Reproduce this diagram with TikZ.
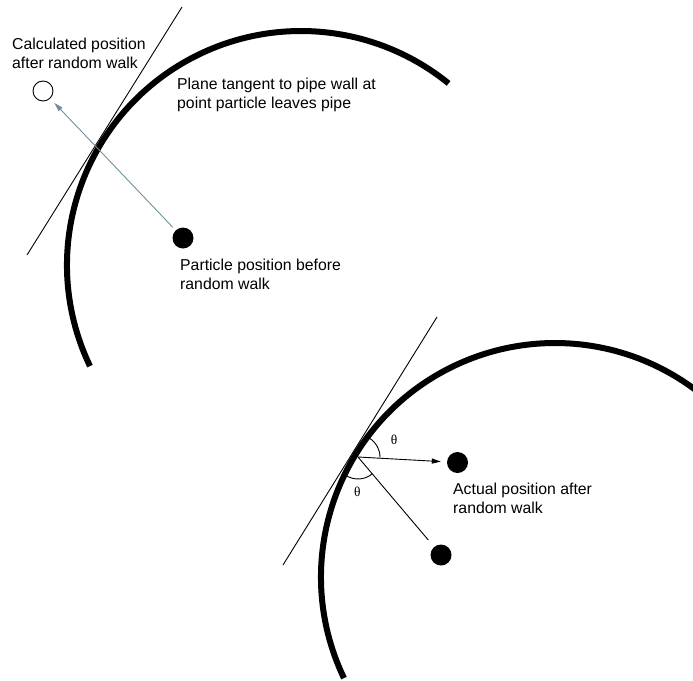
\documentclass[tikz,border=0pt]{standalone}
\usepackage{fontspec}
\setmainfont{Liberation Sans}
\newfontfamily\thetafont{Liberation Serif}
\usetikzlibrary{arrows.meta}
\definecolor{slate}{RGB}{110,145,155}
\begin{document}
\begin{tikzpicture}[x=1pt,y=-1pt,
  wall/.style={line width=6pt,line cap=butt},
  thin/.style={line width=0.9pt},
  dotfill/.style={circle,fill=black,inner sep=0pt,minimum size=21pt},
  dotopen/.style={circle,draw=black,line width=0.9pt,fill=white,inner sep=0pt,minimum size=20pt},
  lbl/.style={anchor=base west,align=left,inner sep=0pt,font=\fontsize{15.8}{18.5}\selectfont},
  thlbl/.style={inner sep=0pt,font=\thetafont\fontsize{13.5}{14}\selectfont},
  tip/.style={-{Triangle[length=9pt,width=5pt]}}
]
\useasboundingbox (0,0) rectangle (693,680);
\clip (0,0) rectangle (693,680);
% ---- top pipe wall
\draw[wall] (301,265) ++(154.4:234) arc[start angle=154.4,end angle=309.1,radius=234];
\coordinate (t1a) at (182,7);
\coordinate (t1b) at (27,255);
\draw[thin] (t1a) -- (t1b);
\node[dotfill] (p1) at (183,238) {};
\node[dotopen] (c1) at (43,91) {};
\draw[thin,slate,tip,shorten <=4pt,shorten >=6pt] (p1) -- (c1);
\node[lbl] (l1) at (12,68) {Calculated position\\after random walk};
\node[lbl] (l2) at (177,108) {Plane tangent to pipe wall at\\point particle leaves pipe};
\node[lbl] (l3) at (180,289) {Particle position before\\random walk};
% ---- bottom pipe wall
\draw[wall] (555,577) ++(154.4:234) arc[start angle=154.4,end angle=309.1,radius=234];
\coordinate (t2a) at (437,317);
\coordinate (t2b) at (283,565);
\draw[thin] (t2a) -- (t2b);
\coordinate (v) at (358,457);
\node[dotfill] (p2) at (457.5,462.5) {};
\node[dotfill] (p3) at (441,555) {};
\draw[thin,tip,shorten >=6pt] (v) -- (p2);
\draw[thin,shorten >=9pt] (v) -- (p3);
\draw[thin] (v) ++(-58:22) arc[start angle=-58,end angle=1.5,radius=22];
\draw[thin] (v) ++(50:22) arc[start angle=50,end angle=122,radius=22];
\node[thlbl] (th1) at (394,440) {θ};
\node[thlbl] (th2) at (357.3,491.7) {θ};
\node[lbl] (l4) at (453,513) {Actual position after\\random walk};
\end{tikzpicture}
\end{document}
